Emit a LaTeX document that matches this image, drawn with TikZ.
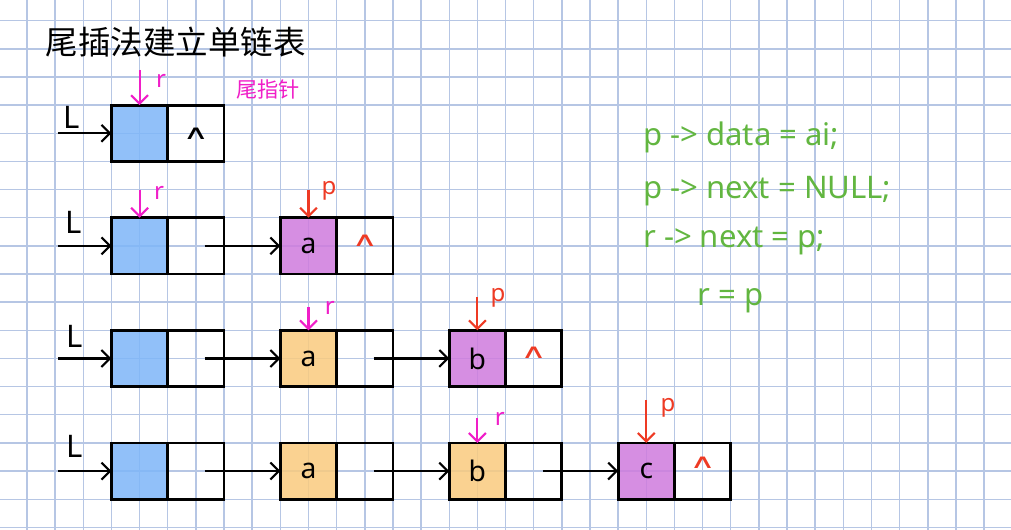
\documentclass[tikz,border=0pt]{standalone}
\usepackage{fontspec}
\setmainfont{Noto Sans}
\newfontfamily\cjkfont{Noto Sans CJK SC}
\newfontfamily\symfont{DejaVu Sans}
\usetikzlibrary{positioning,arrows.meta}
\definecolor{gridblue}{RGB}{182,198,228}
\definecolor{headblue}{RGB}{126,182,249}
\definecolor{oldorange}{RGB}{250,203,126}
\definecolor{newpurple}{RGB}{207,123,221}
\definecolor{rpink}{RGB}{240,30,200}
\definecolor{pred}{RGB}{238,58,36}
\definecolor{codegreen}{RGB}{98,182,64}
\newcommand{\nullmark}{\scalebox{0.9}[0.5]{∧}}
\begin{document}
\begin{tikzpicture}[x=0.7cm, y=-0.7cm,
        gridline/.style={draw=gridblue, line width=1pt},
        cell/.style={draw, line width=2pt, minimum size=1.4cm, inner sep=0pt, outer sep=0pt,
            fill opacity=0.85, text opacity=1, font=\fontsize{20}{24}\selectfont},
        headcell/.style={cell, fill=headblue},
        oldcell/.style={cell, fill=oldorange},
        newcell/.style={cell, fill=newpurple},
        nullcell/.style={cell, font=\symfont\fontsize{28}{28}\selectfont},
        link/.style={-{Straight Barb[length=6pt,width=12pt]}, line width=1.5pt},
        rptr/.style={link, draw=rpink},
        pptr/.style={link, draw=pred},
        rtag/.style={text=rpink, inner sep=0pt, font=\fontsize{17}{17}\selectfont},
        ptag/.style={text=pred, inner sep=0pt, font=\fontsize{17}{17}\selectfont},
        ltag/.style={inner sep=0pt, font=\fontsize{22}{22}\selectfont},
        codeline/.style={text=codegreen, anchor=base west, inner sep=0pt, font=\fontsize{22}{26}\selectfont}]
            \path[use as bounding box, fill=white] (-0.959,-0.735) rectangle (34.956,18.092);
            \draw[gridline, step=0.7cm] (-0.959,18.092) grid (34.956,-0.735);

            \node[font=\cjkfont\fontsize{23}{23}\selectfont] (title) at (5.29,0.76) {尾插法建立单链表};
            \node[text=rpink, font=\cjkfont\fontsize{15}{15}\selectfont] (tail) at (8.56,2.43) {尾指针};

            \node[headcell] (H1) at (4,4) {};
            \node[nullcell, right=0pt of H1] (H1n) {\nullmark};
            \node[ltag] (L1) at (1.6,3.45) {L};
            \coordinate (l1) at (1.1,4);
            \draw[link] (l1) -- (H1.west);
            \coordinate (r1) at (4,1.75);
            \draw[rptr] (r1) -- (H1.north);
            \node[rtag] (rt1) at (4.76,2.14) {r};

            \node[headcell] (H2) at (4,8) {};
            \node[cell, right=0pt of H2] (H2n) {};
            \node[newcell] (A2) at (10,8) {a};
            \node[nullcell, text=pred, right=0pt of A2] (A2n) {\raisebox{7pt}{\nullmark}};
            \node[ltag] (L2) at (1.67,7.15) {L};
            \coordinate (l2) at (1.1,8);
            \draw[link] (l2) -- (H2.west);
            \draw[link] ([xshift=0.22cm]H2n.center) -- (A2.west);
            \coordinate (r2) at (4,6);
            \draw[rptr] (r2) -- (H2.north);
            \node[rtag] (rt2) at (4.69,6.12) {r};
            \coordinate (p2) at (10,6);
            \draw[pptr] (p2) -- (A2.north);
            \node[ptag] (pt2) at (10.73,6.05) {p};

            \node[headcell] (H3) at (4,12) {};
            \node[cell, right=0pt of H3] (H3n) {};
            \node[oldcell] (A3) at (10,12) {a};
            \node[cell, right=0pt of A3] (A3n) {};
            \node[newcell] (B3) at (16,12) {b};
            \node[nullcell, text=pred, right=0pt of B3] (B3n) {\raisebox{8pt}{\nullmark}};
            \node[ltag] (L3) at (1.7,11.2) {L};
            \coordinate (l3) at (1.1,12);
            \draw[link] (l3) -- (H3.west);
            \draw[link] ([xshift=0.22cm]H3n.center) -- (A3.west);
            \draw[link] ([xshift=0.22cm]A3n.center) -- (B3.west);
            \coordinate (r3) at (10,10.17);
            \draw[rptr] (r3) -- (A3.north);
            \node[rtag] (rt3) at (10.76,10.2) {r};
            \coordinate (p3) at (16,9.82);
            \draw[pptr] (p3) -- (B3.north);
            \node[ptag] (pt3) at (16.73,9.86) {p};

            \node[headcell] (H4) at (4,16) {};
            \node[cell, right=0pt of H4] (H4n) {};
            \node[oldcell] (A4) at (10,16) {a};
            \node[cell, right=0pt of A4] (A4n) {};
            \node[oldcell] (B4) at (16,16) {b};
            \node[cell, right=0pt of B4] (B4n) {};
            \node[newcell] (C4) at (22,16) {c};
            \node[nullcell, text=pred, right=0pt of C4] (C4n) {\raisebox{12pt}{\nullmark}};
            \node[ltag] (L4) at (1.71,15.14) {L};
            \coordinate (l4) at (1.1,16);
            \draw[link] (l4) -- (H4.west);
            \draw[link] ([xshift=0.22cm]H4n.center) -- (A4.west);
            \draw[link] ([xshift=0.22cm]A4n.center) -- (B4.west);
            \draw[link] ([xshift=0.22cm]B4n.center) -- (C4.west);
            \coordinate (r4) at (16,14.11);
            \draw[rptr] (r4) -- (B4.north);
            \node[rtag] (rt4) at (16.8,14.15) {r};
            \coordinate (p4) at (22,13.47);
            \draw[pptr] (p4) -- (C4.north);
            \node[ptag] (pt4) at (22.77,13.74) {p};

            \node[codeline] (code1) at (21.88,4.42) {p -> data = ai;};
            \node[codeline] (code2) at (21.88,6.30) {p -> next = NULL;};
            \node[codeline] (code3) at (21.88,8.07) {r -> next = p;};
            \node[codeline] (code4) at (23.8,10.10) {r = p};
\end{tikzpicture}
\end{document}
